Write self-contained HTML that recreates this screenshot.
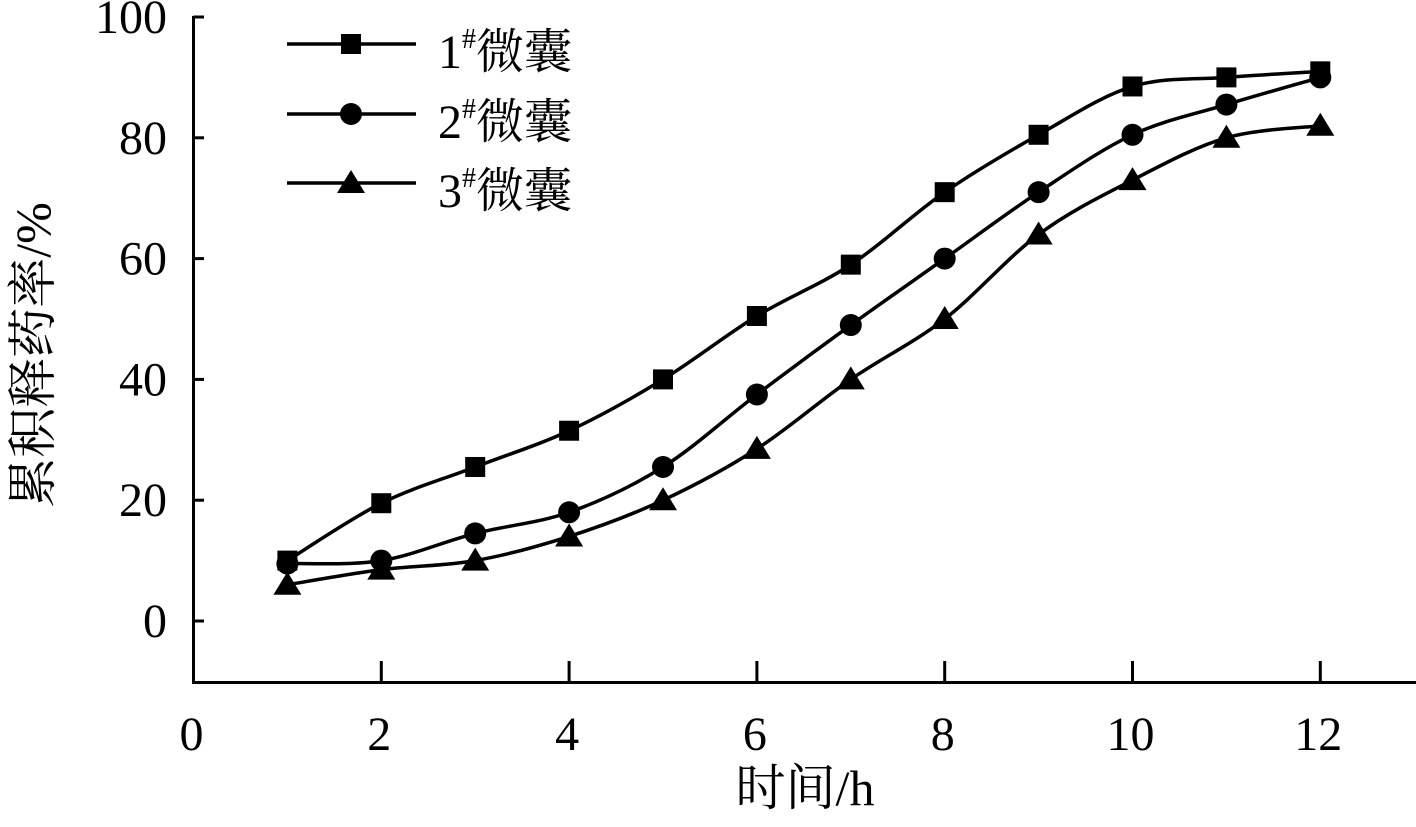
<!DOCTYPE html>
<html><head><meta charset="utf-8"><style>
html,body{margin:0;padding:0;background:#fff;}
svg text{font-family:"Liberation Serif","Noto Serif CJK SC",serif;fill:#000;}
</style></head><body>
<svg id="chart" width="1416" height="822" viewBox="0 0 1416 822" xmlns="http://www.w3.org/2000/svg">
<g id="axes"></g><g id="series"></g><g id="legend"></g>
<text x="33" y="355" font-size="50" transform="rotate(-90 33 355)" text-anchor="middle" dominant-baseline="central">累积释药率/%</text>
<text x="805" y="805" font-size="50" text-anchor="middle">时间/h</text>
</svg>
<script>
const xCats=[1,2,3,4,5,6,7,8,9,10,11,12];
const s1=[10,19.5,25.5,31.5,40,50.5,59,71,80.5,88.5,90,91];
const s2=[9.5,10,14.5,18,25.5,37.5,49,60,71,80.5,85.5,90];
const s3=[6,8.5,10,14,20,28.5,40,50,64,73,80,82];
const seriesNames=["1#微囊","2#微囊","3#微囊"];
const xTicks=[0,2,4,6,8,10,12];
const yTicks=[0,20,40,60,80,100];
const NS="http://www.w3.org/2000/svg";
const X=v=>193.5+v*93.9;
const Y=v=>621-v*6.04;
function mk(t,a,p){const e=document.createElementNS(NS,t);for(const k in a)e.setAttribute(k,a[k]);p.appendChild(e);return e;}
const ax=document.getElementById('axes');
let l=mk('line',{x1:193.5,y1:16,x2:193.5,y2:684,stroke:'#000','stroke-width':3},ax);


l=mk('line',{x1:192,y1:682.5,x2:1416,y2:682.5,stroke:'#000','stroke-width':3},ax);


yTicks.forEach(v=>{
 const t=mk('line',{x1:193.5,y1:Y(v),x2:204,y2:Y(v),stroke:'#000','stroke-width':3},ax);
 
 
 const tx=mk('text',{x:167,y:Y(v)+16,'font-size':48,'text-anchor':'end'},ax);tx.textContent=v;
 
 
});
xTicks.forEach(v=>{
 if(v>0){const t=mk('line',{x1:X(v),y1:682.5,x2:X(v),y2:661,stroke:'#000','stroke-width':3},ax);
 
 }
 const tx=mk('text',{x:X(v)-2,y:750,'font-size':48,'text-anchor':'middle'},ax);tx.textContent=v;
 
 
});
function path(vals){
 const p=xCats.map((c,i)=>[X(c),Y(vals[i])]);
 let d='M'+p[0][0]+','+p[0][1];
 for(let i=0;i<p.length-1;i++){
  const p0=p[i-1]||p[i],p1=p[i],p2=p[i+1],p3=p[i+2]||p2;
  const c1=[p1[0]+(p2[0]-p0[0])/6,p1[1]+(p2[1]-p0[1])/6];
  const c2=[p2[0]-(p3[0]-p1[0])/6,p2[1]-(p3[1]-p1[1])/6];
  d+=`C${c1[0]},${c1[1]} ${c2[0]},${c2[1]} ${p2[0]},${p2[1]}`;
 }
 return d;
}
function marker(type,x,y,g){
 let m;
 if(type==0)m=mk('rect',{x:x-10,y:y-10,width:20,height:20,fill:'#000'},g);
 else if(type==1)m=mk('circle',{cx:x,cy:y,r:11,fill:'#000'},g);
 else m=mk('polygon',{points:`${x},${y-13} ${x+14},${y+10} ${x-14},${y+10}`,fill:'#000'},g);
 return m;
}
const sg=document.getElementById('series');
[s1,s2,s3].forEach((vals,si)=>{
 const g=mk('g',{},sg);
 
 
 const pa=mk('path',{d:path(vals),fill:'none',stroke:'#000','stroke-width':3.5},g);
 
 
 xCats.forEach((c,i)=>{
  const m=marker(si,X(c),Y(vals[i]),g);
  
  
 });
});
const lg=document.getElementById('legend');
const ly=[44,114,183];
seriesNames.forEach((n,i)=>{
 const g=mk('g',{},lg);
 
 
 mk('line',{x1:287,y1:ly[i],x2:416,y2:ly[i],stroke:'#000','stroke-width':3.5},g);
 marker(i,351,ly[i],g);
 const t=mk('text',{x:438,y:ly[i]+24,'font-size':48},g);
 t.innerHTML=n.slice(0,1)+'<tspan font-size="28" dy="-20">#</tspan><tspan dy="20">'+n.slice(2)+'</tspan>';
 
 
});
</script>
</body></html>
